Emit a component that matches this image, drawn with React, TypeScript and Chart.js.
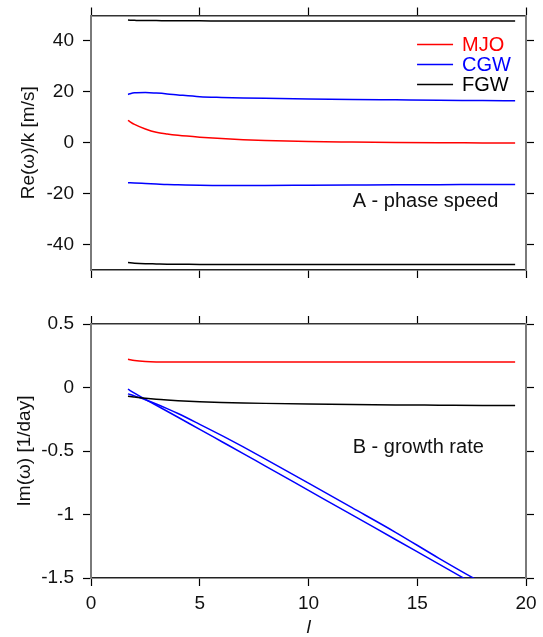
import React, { useEffect, useRef } from "react";
import { Chart, registerables } from "chart.js";

Chart.register(...registerables);

// ---------- data ----------
const lValues = [1.7, 2, 2.5, 3, 3.5, 4, 5, 6, 7, 8, 10, 12, 14, 16, 18, 19.5];

// Panel A: phase speed Re(w)/k [m/s]
const speedMJO = [8.8, 7.2, 5.4, 4.1, 3.4, 2.9, 2.2, 1.65, 1.2, 0.9, 0.45, 0.25, 0.1, 0.0, -0.05, -0.1];
const speedCGWEast = [19.0, 19.6, 19.7, 19.5, 19.2, 18.8, 18.1, 17.8, 17.6, 17.45, 17.2, 17.0, 16.85, 16.7, 16.6, 16.5];
const speedCGWWest = [-15.7, -15.8, -16.0, -16.2, -16.4, -16.5, -16.7, -16.8, -16.8, -16.8, -16.7, -16.6, -16.5, -16.5, -16.4, -16.4];
const speedFGWEast = [48.2, 48.1, 48.0, 48.0, 47.9, 47.9, 47.9, 47.8, 47.8, 47.8, 47.8, 47.8, 47.8, 47.8, 47.8, 47.8];
const speedFGWWest = [-47.1, -47.3, -47.5, -47.6, -47.7, -47.7, -47.8, -47.8, -47.8, -47.8, -47.8, -47.8, -47.8, -47.8, -47.8, -47.8];

// Panel B: growth rate Im(w) [1/day]
const growthMJO = [0.222, 0.213, 0.205, 0.201, 0.2, 0.2, 0.2, 0.2, 0.2, 0.2, 0.2, 0.2, 0.2, 0.2, 0.2, 0.2];
const growthFGW = [-0.069, -0.075, -0.085, -0.093, -0.099, -0.104, -0.112, -0.118, -0.122, -0.125, -0.13, -0.134, -0.137, -0.139, -0.141, -0.142];
const growthCGW1 = [-0.013, -0.045, -0.094, -0.14, -0.187, -0.234, -0.33, -0.425, -0.52, -0.617, -0.81, -1.003, -1.197, -1.39, -1.585, -1.73];
const growthCGW2 = [-0.05, -0.066, -0.097, -0.13, -0.166, -0.205, -0.29, -0.377, -0.468, -0.562, -0.753, -0.946, -1.14, -1.345, -1.54, -1.674];

const xTicks = [0, 5, 10, 15, 20];
const speedTicks = [-40, -20, 0, 20, 40];
const growthTicks = [-1.5, -1, -0.5, 0, 0.5];

const seriesNames = ["MJO", "CGW", "FGW"];
const seriesColors = ["#ff0000", "#0000ff", "#000000"];

// ---------- styling ----------
const FONT = '"Liberation Sans", Arial, Helvetica, sans-serif';
const FS = 19;
const FS_NOTE = 20;
const TEXT = "#111111";

const pts = (ys: number[]) => lValues.map((x, i) => ({ x, y: ys[i] }));

const line = (label: string, ys: number[], color: string) => ({
  label,
  data: pts(ys),
  borderColor: color,
  backgroundColor: color,
  borderWidth: 1.5,
  pointRadius: 0,
  cubicInterpolationMode: "monotone" as const,
  clip: 0,
});

const panelText = {
  id: "panelText",
  afterDatasetsDraw(chart: any, _a: any, opts: any) {
    const { ctx } = chart;
    const xs = chart.scales.x;
    const ys = chart.scales.y;
    ctx.save();
    ctx.font = `${FS_NOTE}px ${FONT}`;
    ctx.textAlign = "left";
    ctx.textBaseline = "alphabetic";
    for (const t of opts.labels || []) {
      ctx.fillStyle = t.color;
      ctx.fillText(t.text, xs.getPixelForValue(t.x), ys.getPixelForValue(t.y));
    }
    if (opts.legend) {
      const lg = opts.legend;
      const px = xs.getPixelForValue(lg.x);
      const py0 = ys.getPixelForValue(lg.y);
      lg.names.forEach((name: string, i: number) => {
        const py = py0 + i * lg.rowStep;
        ctx.fillStyle = lg.colors[i];
        ctx.fillText(name, px, py);
        ctx.strokeStyle = lg.colors[i];
        ctx.lineWidth = 1.5;
        ctx.beginPath();
        const ly = Math.round(py - FS_NOTE * 0.36) + 0.5;
        ctx.moveTo(px - 45, ly);
        ctx.lineTo(px - 9, ly);
        ctx.stroke();
      });
    }
    ctx.restore();
  },
};

const setTicks = (vals: number[]) => (scale: any) => {
  scale.ticks = vals.map((v) => ({ value: v }));
};

const noPad = (s: any) => {
  s.paddingTop = 0;
  s.paddingBottom = 0;
  s.paddingLeft = 0;
  s.paddingRight = 0;
};

function panelOptions(cfg: {
  yMin: number;
  yMax: number;
  yTicks: number[];
  yTitle: string;
  yTitlePad: number;
  topH: number;
  bottomH: number;
  showXLabels: boolean;
  plugin: any;
}) {
  const tickGrid = (c: string) => ({
    display: true,
    drawOnChartArea: false,
    drawTicks: true,
    tickLength: 8,
    tickWidth: 1.2,
    tickColor: c,
    color: c,
  });
  const font = { family: FONT, size: FS };
  return {
    responsive: false,
    maintainAspectRatio: false,
    animation: false as const,
    events: [],
    layout: { padding: 0 },
    plugins: {
      legend: { display: false },
      tooltip: { enabled: false },
      title: { display: false },
      panelText: cfg.plugin,
    },
    scales: {
      x: {
        type: "linear" as const,
        position: "bottom" as const,
        min: 0,
        max: 20,
        afterBuildTicks: setTicks(xTicks),
        afterFit: (s: any) => {
          s.height = cfg.bottomH;
          noPad(s);
        },
        grid: tickGrid("#000"),
        border: { display: true, color: "#222", width: 1.5 },
        ticks: {
          display: cfg.showXLabels,
          font,
          color: TEXT,
          padding: 6,
          maxRotation: 0,
          callback: (v: any) => String(v),
        },
        title: {
          display: cfg.showXLabels,
          text: "l",
          color: TEXT,
          font: { family: FONT, size: FS, style: "italic" as const, lineHeight: 1 },
          padding: { top: 0, bottom: 0 },
        },
      },
      x2: {
        type: "linear" as const,
        position: "top" as const,
        min: 0,
        max: 20,
        afterBuildTicks: setTicks(xTicks),
        afterFit: (s: any) => {
          s.height = cfg.topH;
          noPad(s);
        },
        grid: tickGrid("#000"),
        border: { display: true, color: "#333", width: 1.5 },
        ticks: { display: false },
      },
      y: {
        type: "linear" as const,
        position: "left" as const,
        min: cfg.yMin,
        max: cfg.yMax,
        afterBuildTicks: setTicks(cfg.yTicks),
        afterFit: (s: any) => {
          s.width = 91;
          noPad(s);
        },
        grid: tickGrid("#000"),
        border: { display: true, color: "#7a7a7a", width: 2 },
        ticks: {
          font,
          color: TEXT,
          padding: 9,
          callback: (v: any) => String(v),
        },
        title: {
          display: true,
          text: cfg.yTitle,
          color: TEXT,
          font,
          padding: { top: cfg.yTitlePad, bottom: 0 },
        },
      },
      y2: {
        type: "linear" as const,
        position: "right" as const,
        min: cfg.yMin,
        max: cfg.yMax,
        afterBuildTicks: setTicks(cfg.yTicks),
        afterFit: (s: any) => {
          s.width = 17;
          noPad(s);
        },
        grid: tickGrid("#000"),
        border: { display: true, color: "#7a7a7a", width: 2 },
        ticks: { display: false },
      },
    },
  };
}

function Panel(props: { height: number; top: number; datasets: any[]; options: any }) {
  const ref = useRef<HTMLCanvasElement | null>(null);
  useEffect(() => {
    if (!ref.current) return;
    const chart = new Chart(ref.current, {
      type: "line",
      data: { datasets: props.datasets },
      options: props.options,
      plugins: [panelText],
    } as any);
    return () => chart.destroy();
  }, []);
  return (
    <canvas
      ref={ref}
      width={543}
      height={props.height}
      style={{ position: "absolute", left: 0, top: props.top, width: 543, height: props.height, display: "block" }}
    />
  );
}

export default function App() {
  const speedSets = [
    line("FGW", speedFGWEast, seriesColors[2]),
    line("FGW", speedFGWWest, seriesColors[2]),
    line("CGW", speedCGWEast, seriesColors[1]),
    line("CGW", speedCGWWest, seriesColors[1]),
    line("MJO", speedMJO, seriesColors[0]),
  ];
  const growthSets = [
    line("FGW", growthFGW, seriesColors[2]),
    line("CGW", growthCGW1, seriesColors[1]),
    line("CGW", growthCGW2, seriesColors[1]),
    line("MJO", growthMJO, seriesColors[0]),
  ];

  const speedOpts = panelOptions({
    yMin: -50,
    yMax: 50,
    yTicks: speedTicks,
    yTitle: "Re(\u03c9)/k [m/s]",
    yTitlePad: 17,
    topH: 15.5,
    bottomH: 30,
    showXLabels: false,
    plugin: {
      labels: [{ text: "A - phase speed", x: 12.03, y: -25.2, color: TEXT }],
      legend: { x: 17.06, y: 35.9, rowStep: 20, names: seriesNames, colors: seriesColors },
    },
  });

  const growthOpts = panelOptions({
    yMin: -1.5,
    yMax: 0.5,
    yTicks: growthTicks,
    yTitle: "Im(\u03c9) [1/day]",
    yTitlePad: 13,
    topH: 24,
    bottomH: 59,
    showXLabels: true,
    plugin: {
      labels: [{ text: "B - growth rate", x: 12.03, y: -0.512, color: TEXT }],
    },
  });

  return (
    <div style={{ position: "absolute", left: 0, top: 0, width: 543, height: 637, background: "#fff", overflow: "hidden" }}>
      <Panel height={300} top={0} datasets={speedSets} options={speedOpts} />
      <Panel height={337} top={300} datasets={growthSets} options={growthOpts} />
    </div>
  );
}
